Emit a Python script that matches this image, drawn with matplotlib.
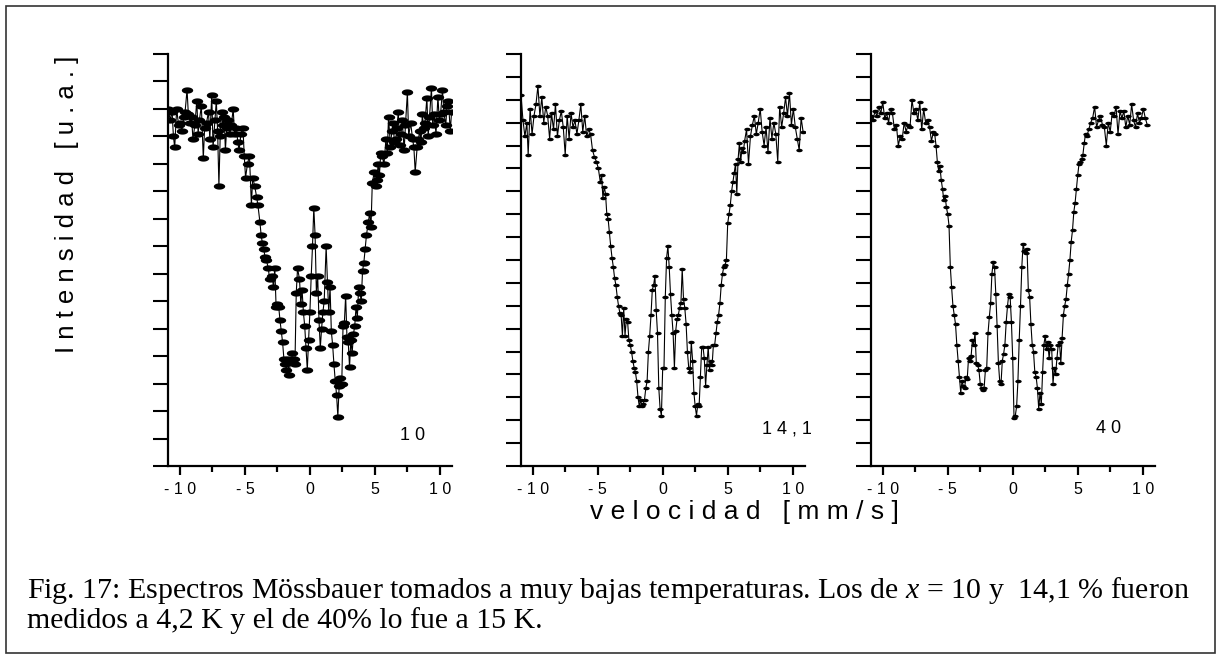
import matplotlib.pyplot as plt
import numpy as np
from matplotlib.patches import Rectangle

plt.rcParams['font.family'] = ['Liberation Sans', 'DejaVu Sans']
plt.rcParams['mathtext.fontset'] = 'custom'
plt.rcParams['mathtext.it'] = 'Liberation Serif:italic'
plt.rcParams['mathtext.rm'] = 'Liberation Serif'

# espectro x = 10 %  (velocidad en mm/s, intensidad en divisiones del eje)
v10 = [-10.9, -10.75, -10.6, -10.5, -10.4, -10.25, -10.1, -10.0, -9.85, -9.7,
       -9.6, -9.45, -9.35, -9.2, -9.1, -9.0, -8.85, -8.7, -8.6, -8.5,
       -8.35, -8.2, -8.1, -7.95, -7.8, -7.7, -7.55, -7.45, -7.3, -7.2,
       -7.1, -7.0, -6.9, -6.8, -6.7, -6.6, -6.5, -6.4, -6.3, -6.15,
       -6.05, -5.9, -5.8, -5.65, -5.55, -5.45, -5.3, -5.15, -5.05, -4.95,
       -4.8, -4.65, -4.5, -4.4, -4.25, -4.1, -4.0, -3.85, -3.75, -3.65,
       -3.55, -3.45, -3.35, -3.2, -3.1, -2.9, -2.8, -2.7, -2.6, -2.5,
       -2.4, -2.3, -2.2, -2.1, -2.0, -1.9, -1.8, -1.7, -1.6, -1.5,
       -1.4, -1.25, -1.15, -1.05, -0.95, -0.8, -0.7, -0.6, -0.5, -0.4,
       -0.3, -0.2, -0.1, 0.0, 0.1, 0.2, 0.3, 0.4, 0.5, 0.6,
       0.7, 0.8, 0.9, 1.0, 1.1, 1.25, 1.35, 1.45, 1.55, 1.65,
       1.75, 1.85, 1.95, 2.05, 2.15, 2.25, 2.35, 2.45, 2.55, 2.65,
       2.75, 2.85, 2.95, 3.05, 3.15, 3.25, 3.35, 3.45, 3.55, 3.65,
       3.75, 3.85, 3.95, 4.05, 4.15, 4.25, 4.35, 4.5, 4.6, 4.7,
       4.8, 4.95, 5.05, 5.15, 5.25, 5.35, 5.45, 5.55, 5.7, 5.85,
       5.95, 6.05, 6.2, 6.3, 6.4, 6.5, 6.6, 6.7, 6.8, 6.9,
       7.0, 7.1, 7.25, 7.35, 7.5, 7.6, 7.75, 7.9, 8.0, 8.1,
       8.25, 8.35, 8.45, 8.55, 8.65, 8.75, 8.85, 9.0, 9.1, 9.2,
       9.35, 9.45, 9.55, 9.7, 9.85, 9.95, 10.05, 10.2, 10.3, 10.45,
       10.55, 10.65, 10.8, 10.9]
i10 = [13.0, 12.6, 12.9, 12.0, 11.6, 13.0, 12.4, 12.5, 12.2, 12.7,
       12.9, 13.7, 12.8, 12.5, 12.7, 11.9, 12.4, 13.3, 12.1, 12.6,
       13.1, 11.2, 12.3, 12.5, 12.9, 11.9, 13.5, 11.6, 12.6, 13.3,
       12.2, 10.2, 12.0, 12.9, 12.4, 12.7, 11.5, 12.3, 12.6, 12.1,
       12.4, 13.0, 12.1, 12.3, 11.8, 11.5, 12.1, 12.3, 11.3, 10.5,
       11.0, 11.3, 9.5, 10.5, 10.2, 9.8, 9.5, 8.9, 8.4, 8.1,
       7.9, 7.6, 7.5, 7.2, 6.8, 6.9, 6.5, 7.2, 5.8, 5.9,
       5.8, 5.3, 4.9, 4.5, 3.9, 3.7, 3.5, 3.9, 3.3, 3.8,
       4.1, 3.9, 3.7, 6.3, 7.2, 6.8, 5.9, 6.4, 5.6, 5.1,
       4.3, 3.5, 4.6, 5.6, 6.9, 8.0, 9.4, 8.4, 6.3, 6.9,
       5.3, 4.3, 5.0, 5.6, 6.0, 8.0, 6.7, 5.6, 6.5, 4.9,
       4.4, 3.7, 3.1, 2.6, 1.8, 2.9, 3.2, 3.0, 5.1, 5.2,
       6.2, 4.7, 4.5, 3.6, 4.6, 4.1, 4.8, 5.1, 5.8, 5.4,
       6.5, 6.3, 6.0, 7.1, 7.4, 7.9, 8.4, 8.9, 9.2, 8.7,
       10.3, 10.7, 10.2, 10.4, 11.0, 10.6, 11.4, 11.3, 11.0, 11.9,
       11.4, 12.7, 11.6, 12.2, 12.5, 11.8, 11.9, 12.3, 12.9, 11.7,
       12.1, 12.6, 11.5, 12.4, 13.6, 12.0, 12.5, 11.9, 11.6, 10.7,
       11.6, 11.9, 12.2, 11.8, 12.8, 12.3, 12.5, 13.4, 12.0, 12.7,
       13.75, 12.4, 12.8, 12.1, 13.45, 12.6, 12.8, 13.7, 12.9, 12.4,
       13.1, 13.3, 12.2, 12.9]

# espectro x = 14,1 %
v14 = [-10.9, -10.75, -10.6, -10.45, -10.35, -10.2, -10.05, -9.9, -9.75, -9.6,
       -9.45, -9.3, -9.15, -9.0, -8.85, -8.7, -8.55, -8.4, -8.25, -8.1,
       -7.95, -7.8, -7.65, -7.5, -7.35, -7.2, -7.05, -6.9, -6.75, -6.6,
       -6.45, -6.3, -6.15, -6.0, -5.85, -5.7, -5.55, -5.4, -5.25, -5.1,
       -4.95, -4.8, -4.7, -4.6, -4.5, -4.4, -4.3, -4.2, -4.1, -4.0,
       -3.9, -3.8, -3.7, -3.6, -3.5, -3.4, -3.3, -3.2, -3.1, -3.0,
       -2.9, -2.8, -2.7, -2.6, -2.5, -2.4, -2.3, -2.2, -2.1, -2.0,
       -1.9, -1.8, -1.7, -1.6, -1.5, -1.4, -1.3, -1.2, -1.1, -1.0,
       -0.9, -0.8, -0.7, -0.6, -0.5, -0.4, -0.3, -0.2, -0.1, 0.0,
       0.1, 0.2, 0.3, 0.4, 0.5, 0.6, 0.7, 0.8, 0.9, 1.0,
       1.1, 1.2, 1.3, 1.4, 1.5, 1.6, 1.7, 1.8, 1.9, 2.0,
       2.1, 2.2, 2.3, 2.4, 2.5, 2.6, 2.7, 2.8, 2.9, 3.0,
       3.1, 3.2, 3.3, 3.4, 3.5, 3.6, 3.7, 3.8, 3.9, 4.0,
       4.1, 4.2, 4.3, 4.4, 4.5, 4.6, 4.7, 4.8, 4.9, 5.0,
       5.1, 5.2, 5.3, 5.4, 5.5, 5.6, 5.7, 5.8, 5.9, 6.0,
       6.1, 6.2, 6.3, 6.45, 6.6, 6.75, 6.9, 7.05, 7.2, 7.35,
       7.5, 7.65, 7.8, 7.95, 8.1, 8.25, 8.4, 8.55, 8.7, 8.85,
       9.0, 9.15, 9.3, 9.45, 9.6, 9.75, 9.9, 10.05, 10.2, 10.35,
       10.5, 10.65, 10.8]
i14 = [16.2, 15.1, 14.4, 15.0, 13.6, 15.6, 14.5, 15.3, 15.8, 16.6,
       15.3, 16.1, 15.0, 15.7, 15.3, 14.3, 15.4, 14.7, 15.8, 14.4,
       15.1, 15.5, 14.8, 13.6, 15.3, 14.3, 15.4, 14.8, 15.1, 14.5,
       15.1, 15.8, 14.6, 15.3, 14.4, 14.7, 14.5, 13.8, 13.5, 13.3,
       13.0, 12.4, 12.7, 11.7, 12.2, 11.9, 11.0, 10.8, 10.2, 9.6,
       9.1, 8.7, 8.2, 7.9, 7.4, 7.0, 6.7, 6.6, 5.7, 6.9,
       5.7, 6.4, 6.3, 5.5, 5.3, 5.0, 4.6, 4.3, 4.1, 3.7,
       3.0, 2.6, 2.9, 2.6, 2.7, 2.9, 3.4, 3.7, 5.0, 5.7,
       6.6, 7.7, 7.9, 8.3, 6.8, 5.8, 3.4, 2.5, 2.2, 4.3,
       4.3, 7.4, 9.1, 9.6, 8.7, 7.5, 6.6, 5.8, 4.3, 5.9,
       6.4, 6.6, 6.9, 7.1, 8.6, 7.3, 6.9, 6.2, 5.0, 4.3,
       4.1, 5.4, 4.6, 3.2, 2.6, 2.2, 2.7, 2.6, 3.9, 5.2,
       5.2, 4.7, 3.5, 4.4, 5.2, 4.2, 4.6, 4.4, 5.3, 5.3,
       5.8, 6.3, 6.6, 7.1, 7.9, 8.4, 8.7, 8.8, 9.0, 10.6,
       11.0, 11.4, 12.0, 12.4, 12.8, 13.2, 11.9, 13.4, 14.1, 13.3,
       13.9, 13.7, 14.2, 14.7, 13.2, 14.4, 14.9, 15.3, 14.5, 15.0,
       15.6, 14.6, 14.0, 14.8, 13.7, 15.2, 14.3, 15.0, 14.5, 13.3,
       15.7, 14.8, 15.4, 16.1, 15.3, 16.3, 14.9, 15.6, 14.8, 14.3,
       13.8, 15.2, 14.6]

# espectro x = 40 %
v40 = [-10.9, -10.75, -10.6, -10.45, -10.3, -10.15, -10.0, -9.85, -9.7, -9.55,
       -9.4, -9.25, -9.1, -8.95, -8.8, -8.65, -8.5, -8.35, -8.2, -8.05,
       -7.9, -7.75, -7.6, -7.45, -7.3, -7.15, -7.0, -6.85, -6.7, -6.55,
       -6.4, -6.25, -6.1, -6.0, -5.9, -5.8, -5.7, -5.6, -5.5, -5.4,
       -5.3, -5.2, -5.1, -5.0, -4.9, -4.8, -4.7, -4.6, -4.5, -4.4,
       -4.3, -4.2, -4.1, -4.0, -3.9, -3.8, -3.7, -3.6, -3.5, -3.4,
       -3.3, -3.2, -3.1, -3.0, -2.9, -2.8, -2.7, -2.6, -2.5, -2.4,
       -2.3, -2.2, -2.1, -2.0, -1.9, -1.8, -1.7, -1.6, -1.5, -1.4,
       -1.3, -1.2, -1.1, -1.0, -0.9, -0.8, -0.7, -0.6, -0.5, -0.4,
       -0.3, -0.2, -0.1, 0.0, 0.1, 0.2, 0.3, 0.4, 0.5, 0.6,
       0.7, 0.8, 0.9, 1.0, 1.1, 1.2, 1.3, 1.4, 1.5, 1.6,
       1.7, 1.8, 1.9, 2.0, 2.1, 2.2, 2.3, 2.4, 2.5, 2.6,
       2.7, 2.8, 2.9, 3.0, 3.1, 3.2, 3.3, 3.4, 3.5, 3.6,
       3.7, 3.8, 3.9, 4.0, 4.1, 4.2, 4.3, 4.4, 4.5, 4.6,
       4.7, 4.8, 4.9, 5.0, 5.1, 5.2, 5.3, 5.4, 5.5, 5.6,
       5.7, 5.85, 6.0, 6.15, 6.3, 6.45, 6.6, 6.75, 6.9, 7.05,
       7.2, 7.35, 7.5, 7.65, 7.8, 7.95, 8.1, 8.25, 8.4, 8.55,
       8.7, 8.85, 9.0, 9.15, 9.3, 9.45, 9.6, 9.75, 9.9, 10.05,
       10.2, 10.35]
i40 = [15.3, 15.1, 15.5, 15.3, 15.7, 15.4, 15.9, 15.2, 15.4, 15.0,
       15.6, 15.4, 14.7, 14.9, 14.0, 14.4, 14.3, 15.0, 14.6, 14.9,
       14.8, 16.0, 15.4, 15.6, 15.1, 15.9, 14.7, 15.6, 15.0, 15.1,
       14.8, 14.2, 14.6, 14.5, 14.0, 13.3, 12.9, 13.1, 12.5, 12.1,
       11.6, 11.8, 11.3, 11.0, 10.5, 8.7, 7.8, 7.0, 6.6, 6.2,
       5.3, 4.6, 3.9, 3.2, 3.7, 3.5, 3.4, 3.9, 3.8, 4.7,
       4.6, 4.8, 5.5, 5.3, 5.8, 4.5, 4.4, 4.2, 3.6, 3.4,
       3.3, 3.4, 4.2, 4.3, 5.8, 6.5, 7.1, 8.4, 8.9, 8.7,
       7.5, 6.1, 4.5, 3.7, 3.6, 4.6, 4.9, 5.3, 6.3, 7.0,
       7.5, 7.4, 6.3, 4.7, 2.1, 2.2, 2.6, 3.7, 5.5, 7.0,
       8.7, 9.7, 9.4, 9.3, 9.5, 7.7, 7.4, 6.2, 5.3, 5.0,
       4.1, 3.9, 3.4, 2.5, 3.2, 2.7, 4.1, 5.3, 5.7, 5.1,
       5.4, 4.7, 5.3, 5.1, 3.6, 4.3, 4.0, 4.7, 5.3, 5.4,
       4.5, 5.6, 6.6, 7.0, 7.3, 7.9, 8.4, 9.0, 9.8, 10.3,
       11.1, 11.5, 12.1, 12.7, 13.2, 13.3, 13.4, 13.6, 14.1, 14.5,
       14.4, 14.7, 15.0, 15.2, 15.7, 14.8, 15.1, 15.3, 14.9, 14.8,
       14.0, 15.0, 14.6, 15.4, 15.3, 15.7, 14.5, 15.5, 15.2, 15.5,
       14.8, 15.3, 14.9, 15.8, 15.1, 14.8, 15.4, 15.0, 15.2, 15.6,
       15.2, 14.9]

etiquetas = ["1 0", "1 4 , 1", "4 0"]
n_div = [15, 18, 18]
xticks = [-10, -5, 0, 5, 10]
xticklabels = ["- 1 0", "- 5", "0", "5", "1 0"]

t = np.linspace(0, 2 * np.pi, 40)
elipse = np.column_stack([np.cos(t), 0.55 * np.sin(t)])

fig = plt.figure(figsize=(12.17, 6.54), dpi=100)

lefts = [0.138, 0.4279, 0.7155]
tam_marca = [8.2, 4.6, 4.6]
pos_etq = [(0.86, 0.075), (0.937, 0.09), (0.838, 0.09)]
datos = [(v10, i10), (v14, i14), (v40, i40)]

for k in range(3):
    ax = fig.add_axes([lefts[k], 0.2875, 0.2336, 0.630])
    v, I = datos[k]
    ax.plot(v, I, '-', color='black', lw=0.8, marker=elipse,
            ms=tam_marca[k], mfc='black', mec='black', mew=0)
    ax.set_xlim(-10.92, 10.95)
    ax.set_ylim(0, n_div[k])
    for s in ['top', 'right']:
        ax.spines[s].set_visible(False)
    for s in ['left', 'bottom']:
        ax.spines[s].set_linewidth(1.6)
    ax.set_xticks(xticks)
    ax.set_xticklabels(xticklabels)
    ax.set_xticks([-7.5, -2.5, 2.5, 7.5], minor=True)
    ax.set_yticks(np.arange(0, n_div[k] + 1))
    ax.set_yticklabels([])
    ax.tick_params(axis='y', direction='out', length=11, width=1.5)
    ax.tick_params(axis='x', which='major', direction='out', length=6.5,
                   width=1.6, labelsize=11.5, pad=5)
    ax.tick_params(axis='x', which='minor', direction='out', length=4, width=1.6)
    ax.text(pos_etq[k][0], pos_etq[k][1], etiquetas[k], transform=ax.transAxes,
            ha='center', va='center', fontsize=13)

fig.text(67 / 1217, 1 - 204 / 654, "I n t e n s i d a d   [ u . a . ]",
         rotation=90, ha='center', va='center', fontsize=18.5)
fig.text(744 / 1217, 1 - 512 / 654, "v e l o c i d a d   [ m m / s ]",
         ha='center', va='center', fontsize=19)

fig.text(27 / 1217, 1 - 598 / 654,
         "Fig. 17: Espectros Mössbauer tomados a muy bajas temperaturas. "
         "Los de $x$ = 10 y  14,1 % fueron",
         family='Liberation Serif', fontsize=21.5, va='baseline', ha='left')
fig.text(27 / 1217, 1 - 628 / 654,
         "medidos a 4,2 K y el de 40% lo fue a 15 K.",
         family='Liberation Serif', fontsize=21.5, va='baseline', ha='left')

fig.add_artist(Rectangle((6 / 1217, 1 / 654), 1209 / 1217, 647 / 654,
                         transform=fig.transFigure, fill=False,
                         lw=1.2, ec='#333333'))

fig.savefig('out.png', dpi=100)
